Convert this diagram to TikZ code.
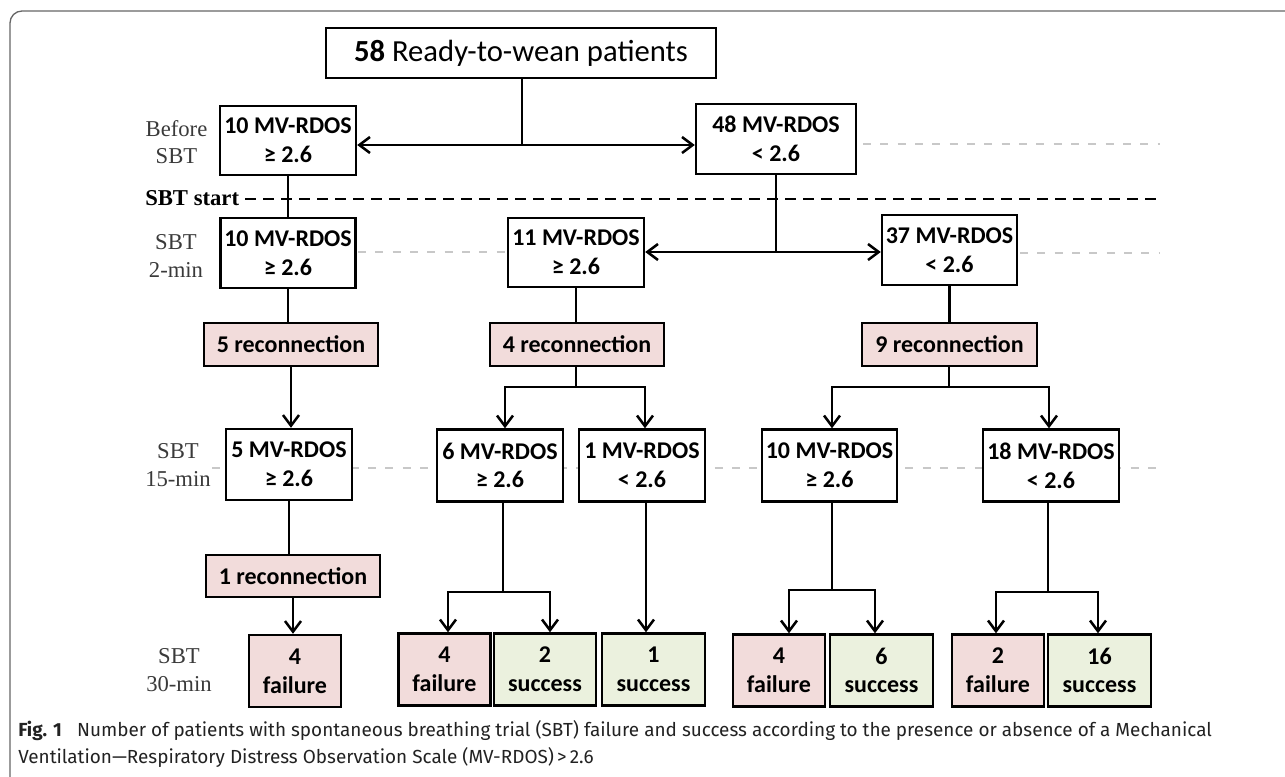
\documentclass[tikz,border=0pt]{standalone}
\usepackage{fontspec}
\setmainfont{Carlito}
\newfontfamily\timesf{Liberation Serif}
\newfontfamily\capf{Fira Sans}
\usetikzlibrary{arrows.meta}
\definecolor{pinkf}{HTML}{F2DCDB}
\definecolor{greenf}{HTML}{EBF1DE}
\definecolor{lblgray}{HTML}{3A3A3A}
\definecolor{dashgray}{HTML}{C8C8C8}
\definecolor{framegray}{HTML}{666666}
\definecolor{capgray}{HTML}{222222}
\begin{document}
\begin{tikzpicture}[x=0.75pt,y=-0.75pt,
  box/.style={draw=black,line width=1.8pt,fill=white,inner sep=0pt,align=center,font=\bfseries\fontsize{18}{21.5}\selectfont},
  sz/.style 2 args={minimum width=#1*0.75pt,minimum height=#2*0.75pt},
  recon/.style={box,fill=pinkf},
  fail/.style={box,fill=pinkf},
  succ/.style={box,fill=greenf},
  conn/.style={line width=1.9pt,draw=black},
  arr/.style={conn,-{Straight Barb[length=8pt,width=12pt]}},
  darr/.style={conn,{Straight Barb[length=8pt,width=12pt]}-{Straight Barb[length=8pt,width=12pt]}},
  lbl/.style={font=\timesf\fontsize{17}{20.5}\selectfont,text=lblgray,align=center,inner sep=0pt},
  gdash/.style={draw=dashgray,line width=1.2pt,dash pattern=on 6pt off 7pt},
  bdash/.style={draw=black,line width=2pt,dash pattern=on 8pt off 5.5pt},
]
\useasboundingbox (0,0) rectangle (1285,776);
\begin{scope}
\clip (0,0) rectangle (1285,776);
\draw[framegray,line width=1pt,rounded corners=9pt] (10,11) rectangle (1310,790);
\end{scope}

% guide lines
\draw[gdash] (863,144) -- (1160,144);
\draw[gdash] (358,252) -- (507,252);
\draw[gdash] (1020,253) -- (1160,253);
\draw[gdash] (212,468) -- (1160,468);
\draw[bdash] (245,199) -- (1160,199);

% labels
\node[lbl] (l1) at (176.5,142) {Before\\SBT};
\node[lbl,font=\timesf\bfseries\fontsize{17}{20}\selectfont,anchor=west,text=black] (l2) at (145,198) {SBT start};
\node[lbl] (l3) at (176,256) {SBT\\2-min};
\node[lbl] (l4) at (178,465) {SBT\\15-min};
\node[lbl] (l5) at (179,670) {SBT\\30-min};

% boxes
\node[box,sz={390}{50},font=\fontsize{23}{27}\selectfont] (top) at (521,53) {\textbf{58} Ready-to-wean patients};
\node[box,sz={136}{69}] (b0L) at (288,140.5) {10 MV-RDOS\\≥ 2.6};
\node[box,sz={160}{70}] (b0R) at (776,139) {48 MV-RDOS\\< 2.6};
\node[box,sz={135}{70}] (b2a) at (288,253) {10 MV-RDOS\\≥ 2.6};
\node[box,sz={136}{69}] (b2b) at (576,252.5) {11 MV-RDOS\\≥ 2.6};
\node[box,sz={135}{70}] (b2c) at (949.5,250) {37 MV-RDOS\\< 2.6};
\node[recon,sz={174}{43}] (r1) at (291,344.5) {5 reconnection};
\node[recon,sz={174}{43}] (r2) at (577,344.5) {4 reconnection};
\node[recon,sz={175}{43}] (r3) at (949.5,344.5) {9 reconnection};
\node[box,sz={126}{71}] (m1) at (289,464.5) {5 MV-RDOS\\≥ 2.6};
\node[box,sz={126}{72}] (m2) at (500,465.5) {6 MV-RDOS\\≥ 2.6};
\node[box,sz={126}{72}] (m3) at (642,465.5) {1 MV-RDOS\\< 2.6};
\node[box,sz={135}{72}] (m4) at (829.5,465.5) {10 MV-RDOS\\≥ 2.6};
\node[box,sz={136}{72}] (m5) at (1051,465.5) {18 MV-RDOS\\< 2.6};
\node[recon,sz={174}{42}] (r4) at (293,576) {1 reconnection};
\node[fail,sz={92}{72}] (f1) at (295,671) {4\\failure};
\node[fail,sz={92}{72}] (f2) at (444.5,669.5) {4\\failure};
\node[succ,sz={102}{72}] (s2) at (545,669.5) {2\\success};
\node[succ,sz={103}{72}] (s3) at (653.5,669.5) {1\\success};
\node[fail,sz={92}{72}] (f3) at (779,670.5) {4\\failure};
\node[succ,sz={103}{72}] (s4) at (881.5,670.5) {6\\success};
\node[fail,sz={92}{72}] (f4) at (998,670.5) {2\\failure};
\node[succ,sz={103}{72}] (s5) at (1099.5,670.5) {16\\success};

% connectors
\coordinate (j0) at (522,145);
\draw[conn] (top.south -| j0) -- (j0);
\draw[darr] (b0L.east |- j0) -- (b0R.west |- j0);
\draw[conn] (b0L.south) -- (b2a.north);
\coordinate (j1) at (776,252);
\draw[conn] (b0R.south) -- (j1);
\draw[darr] (b2b.east |- j1) -- (b2c.west |- j1);
\draw[conn] (b2a.south) -- (b2a.south |- r1.north);
\draw[conn] (b2b.south) -- (b2b.south |- r2.north);
\draw[conn] (b2c.south) -- (b2c.south |- r3.north);
\draw[arr] (r1.south) -- (r1.south |- m1.north);
\coordinate (j2) at (576,387);
\draw[conn] (r2.south -| j2) -- (j2);
\draw[arr] (j2) -| (505,0 |- m2.north);
\draw[arr] (j2) -| (645,0 |- m3.north);
\coordinate (j3) at (949,387);
\draw[conn] (r3.south -| j3) -- (j3);
\draw[arr] (j3) -| (832,0 |- m4.north);
\draw[arr] (j3) -| (1049,0 |- m5.north);
\draw[conn] (m1.south) -- (m1.south |- r4.north);
\draw[arr] (r4.south) -- (r4.south |- f1.north);
\coordinate (j4) at (503,592);
\draw[conn] (m2.south -| j4) -- (j4);
\draw[arr] (j4) -| (448,0 |- f2.north);
\draw[arr] (j4) -| (550,0 |- s2.north);
\draw[arr] (646,0 |- m3.south) -- (646,0 |- s3.north);
\coordinate (j5) at (832,590);
\draw[conn] (m4.south -| j5) -- (j5);
\draw[arr] (j5) -| (789,0 |- f3.north);
\draw[arr] (j5) -| (875,0 |- s4.north);
\coordinate (j6) at (1048,592);
\draw[conn] (m5.south -| j6) -- (j6);
\draw[arr] (j6) -| (996,0 |- f4.north);
\draw[arr] (j6) -| (1098,0 |- s5.north);

% caption
\node[anchor=base west,inner sep=0pt,font=\capf\fontsize{14.2}{17}\selectfont,text=capgray] (cap1) at (18,736) {\textbf{Fig. 1}\hspace{0.8em}Number of patients with spontaneous breathing trial (SBT) failure and success according to the presence or absence of a Mechanical};
\node[anchor=base west,inner sep=0pt,font=\capf\fontsize{14.2}{17}\selectfont,text=capgray] (cap2) at (18,763) {Ventilation—Respiratory Distress Observation Scale (MV-RDOS)\,>\,2.6};
\end{tikzpicture}
\end{document}
